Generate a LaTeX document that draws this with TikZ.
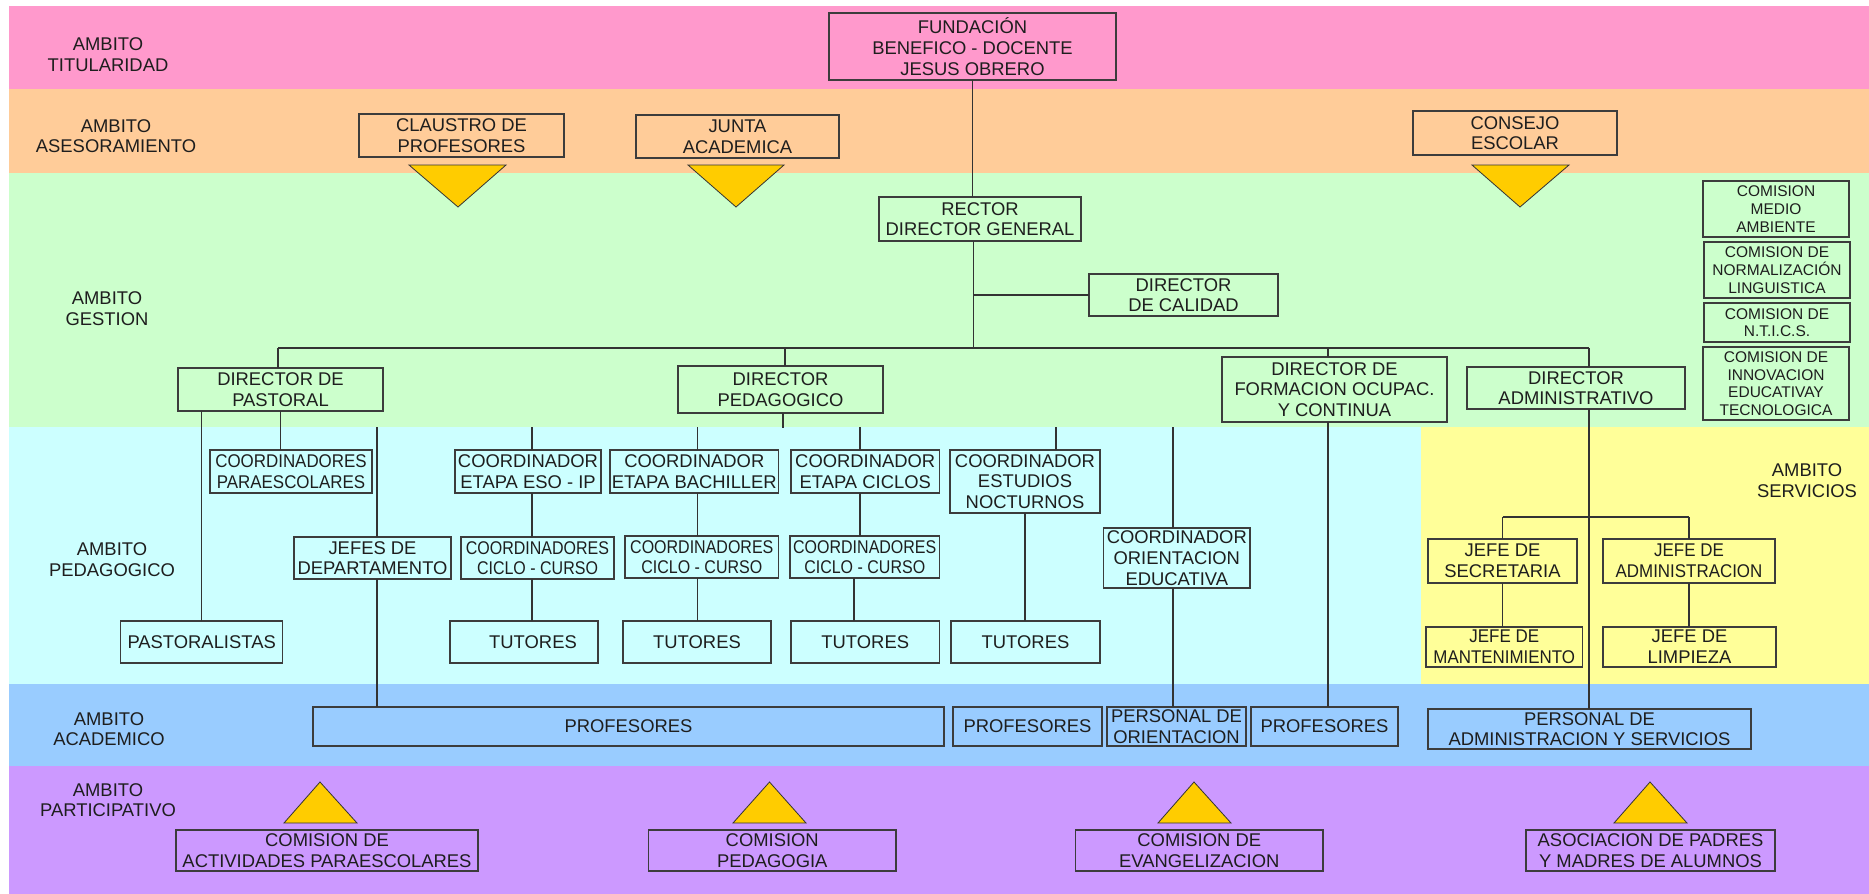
\documentclass[tikz,border=0pt]{standalone}
\usepackage{fontspec}
\setmainfont{Liberation Sans}
\newfontfamily\narrowA{Liberation Sans}[FakeStretch=0.87]
\newfontfamily\narrowB{Liberation Sans}[FakeStretch=0.92]
\definecolor{bPink}{HTML}{FF99CC}
\definecolor{bOrange}{HTML}{FFCC99}
\definecolor{bGreen}{HTML}{CCFFCC}
\definecolor{bCyan}{HTML}{CCFFFF}
\definecolor{bYellow}{HTML}{FFFF99}
\definecolor{bBlue}{HTML}{99CCFF}
\definecolor{bPurple}{HTML}{CC99FF}
\definecolor{triY}{HTML}{FFCC00}
\definecolor{boxline}{HTML}{3C3C3C}
\definecolor{lineclr}{HTML}{333333}
\definecolor{txt}{HTML}{1E1E1E}
\begin{document}
\begin{tikzpicture}[x=1pt,y=-1pt,
 box/.style={draw=boxline, line width=1.1pt, inner sep=0pt, outer sep=0pt, align=center, text=txt, text depth=-2.5pt, font=\fontsize{18.4}{20.7}\selectfont},
 nbox/.style={box, font=\narrowA\fontsize{18.4}{20.7}\selectfont},
 mbox/.style={box, font=\narrowB\fontsize{18.4}{20.7}\selectfont},
 sbox/.style={box, text depth=-1pt, font=\fontsize{15.5}{17.7}\selectfont},
 sz/.style 2 args={minimum width=#1, minimum height=#2},
 lbl/.style={align=center, text=txt, inner sep=0pt, font=\fontsize{18.4}{20.7}\selectfont},
 conn/.style={draw=lineclr, line width=1.1pt},
 tri/.style={fill=triY, draw=black!80, line width=0.8pt, line join=miter},
]
\useasboundingbox (0,0) rectangle (1869,894);
% bands
\fill[bPink] (9,6) rectangle (1869,89);
\fill[bOrange] (9,89) rectangle (1869,173);
\fill[bGreen] (9,173) rectangle (1869,427);
\fill[bCyan] (9,427) rectangle (1869,684);
\fill[bYellow] (1421,427) rectangle (1869,684);
\fill[bBlue] (9,684) rectangle (1869,766);
\fill[bPurple] (9,766) rectangle (1869,894);

% band labels
\node[lbl] (lTit) at (108,55) {AMBITO\\TITULARIDAD};
\node[lbl] (lAse) at (116,136.3) {AMBITO\\ASESORAMIENTO};
\node[lbl] (lGes) at (107,308.8) {AMBITO\\GESTION};
\node[lbl] (lPed) at (112,559.5) {AMBITO\\PEDAGOGICO};
\node[lbl] (lAca) at (109,729.2) {AMBITO\\ACADEMICO};
\node[lbl] (lPar) at (108,800.3) {AMBITO\\PARTICIPATIVO};
\node[lbl] (lSer) at (1807,480.5) {AMBITO\\SERVICIOS};

% triangles
\draw[tri] (409,165) -- (506,165) -- (458,207) -- cycle;
\draw[tri] (688,165) -- (784,165) -- (736,207) -- cycle;
\draw[tri] (1472,165) -- (1569,165) -- (1520,207) -- cycle;
\draw[tri] (284,823) -- (357,823) -- (320,782) -- cycle;
\draw[tri] (733,823) -- (806,823) -- (769.5,782) -- cycle;
\draw[tri] (1158,823) -- (1231,823) -- (1194,782) -- cycle;
\draw[tri] (1614,823) -- (1687,823) -- (1650,782) -- cycle;

% boxes
\node[box, sz={287}{67}] (fund) at (972.5,46.5) {FUNDACIÓN\\BENEFICO - DOCENTE\\JESUS OBRERO};
\node[box, sz={205}{43}] (claustro) at (461.5,135.5) {CLAUSTRO DE\\PROFESORES};
\node[box, sz={203}{43}] (junta) at (737.5,136.5) {JUNTA\\ACADEMICA};
\node[box, sz={204}{44}] (consejo) at (1515,133) {CONSEJO\\ESCOLAR};
\node[box, sz={202}{44}] (rector) at (980,219) {RECTOR\\DIRECTOR GENERAL};
\node[box, sz={189}{42}] (calidad) at (1183.5,295) {DIRECTOR\\DE CALIDAD};
\node[sbox, sz={146}{56}] (cma) at (1776,209) {COMISION\\MEDIO\\AMBIENTE};
\node[sbox, sz={146}{56}] (cnl) at (1777,270) {COMISION DE\\NORMALIZACIÓN\\LINGUISTICA};
\node[sbox, sz={146}{39}] (cnt) at (1777,322.5) {COMISION DE\\N.T.I.C.S.};
\node[sbox, sz={146}{73}] (cin) at (1776,383.5) {COMISION DE\\INNOVACION\\EDUCATIVAY\\TECNOLOGICA};
\node[box, sz={205}{43}] (pastoral) at (280.5,389.5) {DIRECTOR DE\\PASTORAL};
\node[box, sz={205}{47}] (pedag) at (780.5,389.5) {DIRECTOR\\PEDAGOGICO};
\node[box, sz={225}{65}] (formac) at (1334.5,389.5) {DIRECTOR DE\\FORMACION OCUPAC.\\Y CONTINUA};
\node[box, sz={218}{42}] (admin) at (1576,388) {DIRECTOR\\ADMINISTRATIVO};
\node[mbox, sz={162}{43}] (cpar) at (291,471.5) {COORDINADORES\\PARAESCOLARES};
\node[box, sz={146}{43}] (ceso) at (528,471.5) {COORDINADOR\\ETAPA ESO - IP};
\node[box, sz={168.6}{43}] (cbach) at (694.3,471.5) {COORDINADOR\\ETAPA BACHILLER};
\node[box, sz={148.5}{43}] (cciclos) at (865.25,471.5) {COORDINADOR\\ETAPA CICLOS};
\node[box, sz={150}{63}] (cnoct) at (1025,481.5) {COORDINADOR\\ESTUDIOS\\NOCTURNOS};
\node[box, sz={157}{42}] (jefes) at (372.5,558) {JEFES DE\\DEPARTAMENTO};
\node[nbox, sz={153}{42}] (cc1) at (537.5,558) {COORDINADORES\\CICLO - CURSO};
\node[nbox, sz={153.6}{42}] (cc2) at (701.8,557) {COORDINADORES\\CICLO - CURSO};
\node[nbox, sz={149.5}{42}] (cc3) at (864.75,557) {COORDINADORES\\CICLO - CURSO};
\node[box, sz={146.4}{60}] (corient) at (1176.8,558) {COORDINADOR\\ORIENTACION\\EDUCATIVA};
\node[box, sz={149}{44}] (secret) at (1502.5,561) {JEFE DE\\SECRETARIA};
\node[mbox, sz={172}{44}] (jadm) at (1689,561) {JEFE DE\\ADMINISTRACION};
\node[mbox, sz={156.5}{40}] (mant) at (1504.25,647) {JEFE DE\\MANTENIMIENTO};
\node[box, sz={173}{40}] (limp) at (1689.5,647) {JEFE DE\\LIMPIEZA};
\node[box, sz={162}{42}] (pastoralistas) at (201.65,642) {PASTORALISTAS};
\node[box, sz={148}{42}] (tut1) at (524,642) {\hspace*{18pt}TUTORES};
\node[box, sz={148}{42}] (tut2) at (697,642) {TUTORES};
\node[box, sz={148.5}{42}] (tut3) at (865.25,642) {TUTORES};
\node[box, sz={149}{42}] (tut4) at (1025.5,642) {TUTORES};
\node[box, sz={631}{39}] (prof1) at (628.5,726.5) {PROFESORES};
\node[box, sz={149}{39}] (prof2) at (1027.5,726.5) {PROFESORES};
\node[box, sz={139}{39}] (porient) at (1176.5,726.5) {PERSONAL DE\\ORIENTACION};
\node[box, sz={147}{39}] (prof3) at (1324.5,726.5) {PROFESORES};
\node[box, sz={323}{40}] (pas) at (1589.5,729) {PERSONAL DE\\ADMINISTRACION Y SERVICIOS};
\node[box, sz={302}{41}] (cact) at (327,850.5) {COMISION DE\\ACTIVIDADES PARAESCOLARES};
\node[box, sz={247.5}{41}] (cped) at (772.25,850.5) {COMISION\\PEDAGOGIA};
\node[box, sz={247.5}{41}] (cevan) at (1199.25,850.5) {COMISION DE\\EVANGELIZACION};
\node[box, sz={249}{41}] (apa) at (1650.5,850.5) {ASOCIACION DE PADRES\\Y MADRES DE ALUMNOS};

% junction coordinates
\coordinate (hub) at (973.5,348);
\coordinate (hL) at (278,348);
\coordinate (hR) at (1589,348);
\coordinate (hP) at (785,348);
\coordinate (hF) at (1328,348);
\coordinate (pstub) at (783,428);
\coordinate (fJ) at (377,427);
\coordinate (fE) at (532,427);
\coordinate (fB) at (697.5,427);
\coordinate (fC) at (860,427);
\coordinate (fC2) at (854,600);
\coordinate (fN) at (1056,427);
\coordinate (fO) at (1173,427);
\coordinate (sH) at (1589,517);

% connectors
\draw[conn] (fund.south) -- (fund.south |- rector.north);
\draw[conn] (hub |- rector.south) -- (hub);
\draw[conn] (hub |- calidad.west) -- (calidad.west);
\draw[conn] (hL) -- (hR);
\draw[conn] (hL) -- (hL |- pastoral.north);
\draw[conn] (hP) -- (hP |- pedag.north);
\draw[conn] (pstub |- pedag.south) -- (pstub);
\draw[conn] (hF) -- (hF |- formac.north);
\draw[conn] (hF |- formac.south) -- (hF |- prof3.north);
\draw[conn] (hR) -- (hR |- admin.north);
\draw[conn] (hR |- admin.south) -- (hR |- pas.north);
\draw[conn] (pastoralistas.north |- pastoral.south) -- (pastoralistas.north);
\draw[conn] (pastoral.south) -- (pastoral.south |- cpar.north);
\draw[conn] (fJ) -- (fJ |- jefes.north);
\draw[conn] (fJ |- jefes.south) -- (fJ |- prof1.north);
\draw[conn] (fE) -- (fE |- ceso.north);
\draw[conn] (fE |- ceso.south) -- (fE |- cc1.north);
\draw[conn] (fE |- cc1.south) -- (fE |- tut1.north);
\draw[conn] (fB) -- (fB |- cbach.north);
\draw[conn] (fB |- cbach.south) -- (fB |- cc2.north);
\draw[conn] (fB |- cc2.south) -- (fB |- tut2.north);
\draw[conn] (fC) -- (fC |- cciclos.north);
\draw[conn] (fC |- cciclos.south) -- (fC |- cc3.north);
\draw[conn] (fC2 |- cc3.south) -- (fC2 |- tut3.north);
\draw[conn] (fN) -- (fN |- cnoct.north);
\draw[conn] (cnoct.south) -- (cnoct.south |- tut4.north);
\draw[conn] (fO) -- (fO |- corient.north);
\draw[conn] (fO |- corient.south) -- (fO |- porient.north);
\draw[conn] (secret.north |- sH) -- (jadm.north |- sH);
\draw[conn] (secret.north |- sH) -- (secret.north);
\draw[conn] (jadm.north |- sH) -- (jadm.north);
\draw[conn] (secret.south) -- (secret.south |- mant.north);
\draw[conn] (jadm.south) -- (jadm.south |- limp.north);
\end{tikzpicture}
\end{document}
